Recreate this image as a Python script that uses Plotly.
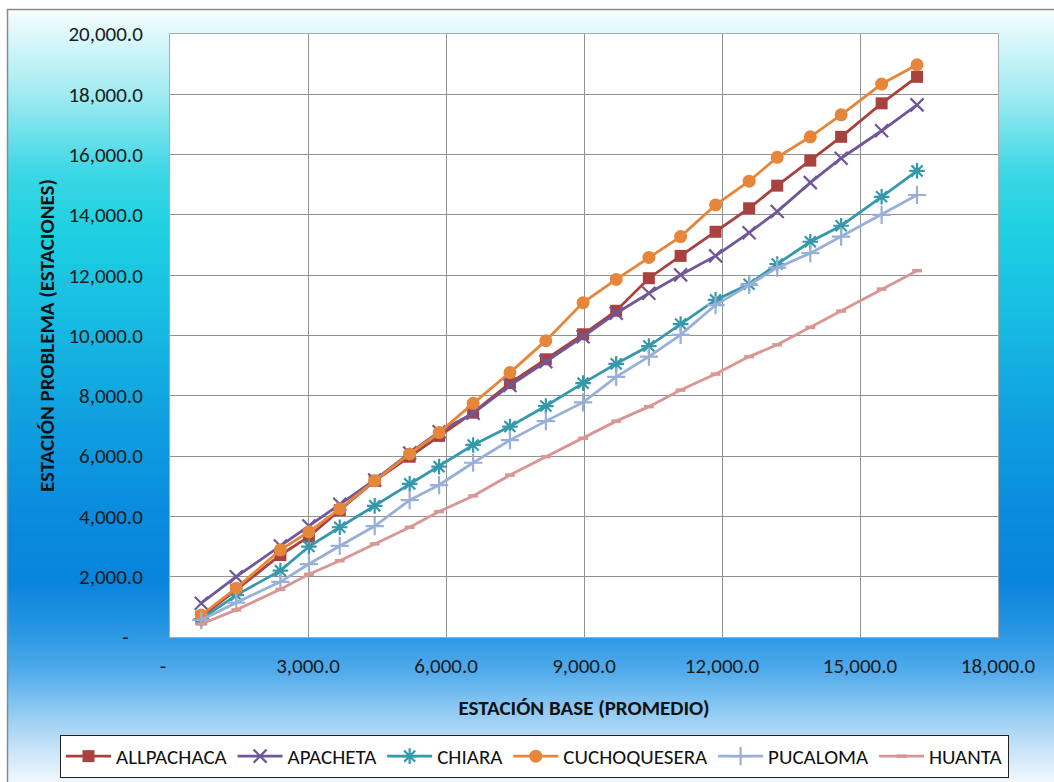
import base64
import struct
import zlib

import numpy as np
import plotly.graph_objects as go

# ---- data ---------------------------------------------------------------
base_promedio = [680, 1440, 2400, 3020, 3690, 4450, 5210, 5850, 6590, 7390, 8170,
                 8980, 9700, 10410, 11100, 11860, 12590, 13200, 13920, 14590, 15470, 16240]

allpachaca = [670, 1560, 2720, 3330, 4210, 5180, 5980, 6670, 7440, 8420, 9210,
              10040, 10820, 11900, 12640, 13440, 14220, 14970, 15800, 16590, 17700, 18580]
apacheta = [1120, 2000, 3020, 3680, 4400, 5210, 6100, 6810, 7420, 8340, 9130,
            9960, 10740, 11400, 12010, 12640, 13410, 14110, 15070, 15880, 16790, 17650]
chiara = [590, 1390, 2200, 3000, 3640, 4350, 5080, 5650, 6370, 6980, 7660,
          8420, 9060, 9650, 10380, 11180, 11700, 12370, 13110, 13640, 14600, 15460]
cuchoquesera = [730, 1620, 2890, 3490, 4250, 5180, 6070, 6780, 7750, 8770, 9830,
                11090, 11860, 12590, 13280, 14330, 15120, 15910, 16590, 17320, 18340, 18980]
pucaloma = [560, 1140, 1830, 2420, 3020, 3680, 4540, 5040, 5780, 6530, 7160,
            7780, 8630, 9300, 10020, 11010, 11680, 12250, 12730, 13280, 14000, 14660]
huanta = [430, 900, 1580, 2080, 2530, 3090, 3640, 4160, 4680, 5370, 5980,
          6590, 7160, 7640, 8190, 8720, 9300, 9690, 10270, 10810, 11540, 12150]

x_ticks = [0, 3000, 6000, 9000, 12000, 15000, 18000]
x_ticktext = ["-\u00a0\u00a0\u00a0", "3,000.0", "6,000.0", "9,000.0", "12,000.0", "15,000.0", "18,000.0"]
y_ticks = [0, 2000, 4000, 6000, 8000, 10000, 12000, 14000, 16000, 18000, 20000]
y_ticktext = ["-\u00a0\u00a0\u00a0", "2,000.0", "4,000.0", "6,000.0", "8,000.0", "10,000.0", "12,000.0",
              "14,000.0", "16,000.0", "18,000.0", "20,000.0"]

# ---- page geometry (pixels) ---------------------------------------------
W, H = 1054, 782
PL, PR, PT, PB = 170, 998, 34, 637   # plot area edges


def px_x(px):
    return (px - PL) / (PR - PL)


def px_y(py):
    return (PB - py) / (PB - PT)


# ---- vertical background gradient as an inline PNG ------------------------
def gradient_png(top, bottom):
    stops = [
        (9, (246, 253, 254)),
        (90, (165, 236, 242)),
        (170, (62, 215, 229)),
        (230, (30, 208, 225)),
        (310, (24, 190, 226)),
        (410, (16, 162, 224)),
        (510, (10, 140, 222)),
        (580, (8, 132, 220)),
        (630, (40, 150, 228)),
        (670, (80, 170, 235)),
        (705, (135, 198, 241)),
        (745, (195, 225, 247)),
        (782, (242, 248, 253)),
    ]
    ys = np.arange(top, bottom)
    sy = [s[0] for s in stops]
    chans = [np.interp(ys, sy, [s[1][i] for s in stops]) for i in range(3)]
    rows = b"".join(
        b"\x00" + bytes([int(round(chans[0][k])), int(round(chans[1][k])), int(round(chans[2][k]))])
        for k in range(len(ys))
    )

    def chunk(tag, data):
        return (struct.pack(">I", len(data)) + tag + data
                + struct.pack(">I", zlib.crc32(tag + data) & 0xFFFFFFFF))

    png = (b"\x89PNG\r\n\x1a\n"
           + chunk(b"IHDR", struct.pack(">IIBBBBB", 1, len(ys), 8, 2, 0, 0, 0))
           + chunk(b"IDAT", zlib.compress(rows))
           + chunk(b"IEND", b""))
    return "data:image/png;base64," + base64.b64encode(png).decode()


FONT = "Carlito, Calibri, Lato, sans-serif"
FS = 21

series = [
    ("ALLPACHACA", allpachaca, "#A9423E", dict(symbol="square", size=12)),
    ("APACHETA", apacheta, "#70579A", dict(symbol="x-thin", size=13, line=dict(width=2.2, color="#70579A"))),
    ("CHIARA", chiara, "#3599AB", dict(symbol="asterisk", size=13, line=dict(width=2.2, color="#3599AB"))),
    ("CUCHOQUESERA", cuchoquesera, "#E5863A", dict(symbol="circle", size=13)),
    ("PUCALOMA", pucaloma, "#98AFD8", dict(symbol="cross-thin", size=13, line=dict(width=2.2, color="#98AFD8"))),
    ("HUANTA", huanta, "#D99694", dict(symbol="line-ew", size=7, line=dict(width=3.5, color="#D99694"))),
]

fig = go.Figure()
for name, vals, color, mk in series:
    fig.add_trace(go.Scatter(
        x=base_promedio, y=vals, name=name, mode="lines+markers",
        line=dict(color=color, width=2.8),
        marker=dict(color=color, **mk),
    ))

fig.add_layout_image(dict(
    source=gradient_png(9, H), xref="paper", yref="paper",
    x=px_x(7), y=px_y(9), sizex=(W - 7) / (PR - PL), sizey=(H - 9) / (PB - PT),
    xanchor="left", yanchor="top", sizing="stretch", layer="below",
))

shapes = [
    # white plotting area over the gradient
    dict(type="rect", xref="x domain", yref="y domain", x0=0, x1=1, y0=0, y1=1,
         fillcolor="white", line=dict(width=0), layer="below"),
    # outer frame of the chart
    dict(type="line", xref="paper", yref="paper", x0=px_x(7), x1=px_x(W + 5),
         y0=px_y(9.5), y1=px_y(9.5), line=dict(color="#8a8a8a", width=1.5)),
    dict(type="line", xref="paper", yref="paper", x0=px_x(7.5), x1=px_x(7.5),
         y0=px_y(9), y1=px_y(H + 5), line=dict(color="#8a8a8a", width=1.5)),
]

axis_common = dict(
    showgrid=True, gridcolor="#929292", gridwidth=1,
    showline=True, linecolor="#ababab", linewidth=1, mirror=True,
    zeroline=False, ticks="",
    tickfont=dict(family=FONT, size=FS, color="#1a1a1a"),
)

fig.update_layout(
    width=W, height=H,
    margin=dict(l=PL, r=W - PR, t=PT, b=H - PB, autoexpand=False),
    paper_bgcolor="white", plot_bgcolor="white",
    showlegend=True,
    shapes=shapes,
    xaxis=dict(
        range=[0, 18000], tickvals=x_ticks, ticktext=x_ticktext,
        ticklabelstandoff=10, automargin=False,
        title=dict(text="<b>ESTACIÓN BASE (PROMEDIO)</b>",
                   font=dict(family=FONT, size=FS, color="#111111"), standoff=22),
        **axis_common,
    ),
    yaxis=dict(
        range=[0, 20000], tickvals=y_ticks, ticktext=y_ticktext,
        ticklabelstandoff=22, automargin=False,
        title=dict(text="<b>ESTACIÓN PROBLEMA (ESTACIONES)</b>",
                   font=dict(family=FONT, size=FS, color="#111111"), standoff=8),
        **axis_common,
    ),
    legend=dict(
        orientation="h", x=px_x(60), y=px_y(735), xanchor="left", yanchor="top",
        bgcolor="white", bordercolor="#222222", borderwidth=1,
        font=dict(family=FONT, size=FS, color="#111111"),
        itemwidth=45, tracegroupgap=0,
    ),
)

fig.write_html("out.html")
